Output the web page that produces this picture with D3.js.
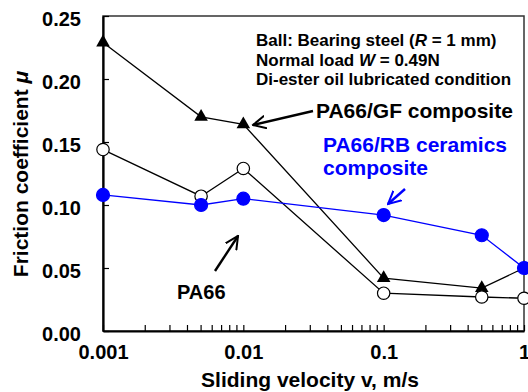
<!DOCTYPE html>
<html>
<head>
<meta charset="utf-8">
<script src="https://cdn.jsdelivr.net/npm/d3@7"></script>
<style>
  body { margin: 0; background: #fff; }
  svg { display: block; font-family: "Liberation Sans", Arial, sans-serif; font-weight: bold; }
</style>
</head>
<body>
<div id="chart"></div>
<script>
var velocity = [0.001, 0.005, 0.01, 0.1, 0.5, 1];
var pa66 = [0.144, 0.107, 0.129, 0.030, 0.027, 0.026];
var pa66gf = [0.229, 0.170, 0.164, 0.042, 0.034, 0.050];
var pa66rb = [0.108, 0.100, 0.105, 0.092, 0.076, 0.050];
var yTicks = [0, 0.05, 0.10, 0.15, 0.20, 0.25];
var xTicks = [0.001, 0.01, 0.1, 1];

var width = 528, height = 392,
    margin = {left: 103, right: 4, top: 16, bottom: 61},
    w = width - margin.left - margin.right,
    h = height - margin.top - margin.bottom;

var svg = d3.select('#chart').append('svg')
    .attr('width', width)
    .attr('height', height);

var chart = svg.append('g')
    .attr('transform', 'translate(' + margin.left + ',' + margin.top + ')');

var x = d3.scaleLog().domain([0.001, 1]).range([0, w]),
    y = d3.scaleLinear().domain([0, 0.25]).range([h, 0]);

// frame (top and right)
chart.append('rect')
    .attr('width', w).attr('height', h)
    .attr('fill', 'none')
    .attr('stroke', '#333')
    .attr('stroke-width', 1.5);

// minor x ticks
var minor = [];
[0.001, 0.01, 0.1].forEach(function(d) {
    for (var k = 2; k <= 9; k++) minor.push(d * k);
});

var xAxis = chart.append('g')
    .attr('transform', 'translate(0,' + h + ')')
    .call(d3.axisBottom(x).tickValues(xTicks).tickSize(-6).tickSizeOuter(0)
        .tickFormat(function(d) { return String(d); }));
xAxis.select('.domain').attr('stroke-width', 2.2);
xAxis.selectAll('.tick line').attr('stroke-width', 1.2);
xAxis.selectAll('text')
    .attr('dy', null).attr('y', 28)
    .style('font-size', '20px').attr('fill', '#000');

chart.append('g')
    .attr('transform', 'translate(0,' + h + ')')
    .selectAll('line')
    .data(minor)
    .enter().append('line')
    .attr('x1', function(d) { return x(d); })
    .attr('x2', function(d) { return x(d); })
    .attr('y1', 0).attr('y2', -6)
    .attr('stroke', '#000')
    .attr('stroke-width', 1.2);

var yAxis = chart.append('g')
    .call(d3.axisLeft(y).tickValues(yTicks).tickSize(-6).tickSizeOuter(0)
        .tickFormat(d3.format('.2f')));
yAxis.select('.domain').attr('stroke-width', 2.2);
yAxis.selectAll('.tick line').attr('stroke-width', 1.2);
yAxis.selectAll('text')
    .attr('x', -22).attr('dy', '0.45em')
    .style('font-size', '20px').attr('fill', '#000');

// axis titles
svg.append('text')
    .attr('x', 310)
    .attr('y', 387)
    .attr('text-anchor', 'middle')
    .style('font-size', '21px')
    .text('Sliding velocity v, m/s');

var ytitle = svg.append('text')
    .attr('transform', 'translate(28,174) rotate(-90)')
    .attr('text-anchor', 'middle')
    .style('font-size', '21px');
ytitle.append('tspan').text('Friction coefficient ');
ytitle.append('tspan').style('font-style', 'italic').text('μ');

// series
var series = [
    {values: pa66gf, color: '#000', marker: 'triangle'},
    {values: pa66, color: '#000', marker: 'open'},
    {values: pa66rb, color: '#0000ff', marker: 'dot'}
];

var line = d3.line()
    .x(function(d, i) { return x(velocity[i]); })
    .y(function(d) { return y(d); });

series.forEach(function(s) {
    chart.append('path')
        .datum(s.values)
        .attr('d', line)
        .attr('fill', 'none')
        .attr('stroke', s.color)
        .attr('stroke-width', 1.3);
});

series.forEach(function(s) {
    var g = chart.append('g');
    if (s.marker === 'triangle') {
        g.selectAll('path').data(s.values).enter().append('path')
            .attr('d', d3.symbol().type(d3.symbolTriangle).size(80))
            .attr('transform', function(d, i) { return 'translate(' + x(velocity[i]) + ',' + y(d) + ')'; })
            .attr('fill', '#000');
    } else {
        g.selectAll('circle').data(s.values).enter().append('circle')
            .attr('cx', function(d, i) { return x(velocity[i]); })
            .attr('cy', function(d) { return y(d); })
            .attr('r', s.marker === 'dot' ? 6.5 : 6.2)
            .attr('fill', s.marker === 'dot' ? s.color : '#fff')
            .attr('stroke', s.color)
            .attr('stroke-width', 1.2);
    }
});

// test condition note
var note = svg.append('g').style('font-size', '17px');
var l1 = note.append('text').attr('x', 256).attr('y', 46);
l1.append('tspan').text('Ball: Bearing steel (');
l1.append('tspan').style('font-style', 'italic').text('R');
l1.append('tspan').text(' = 1 mm)');
var l2 = note.append('text').attr('x', 256).attr('y', 65.5);
l2.append('tspan').text('Normal load ');
l2.append('tspan').style('font-style', 'italic').text('W');
l2.append('tspan').text(' = 0.49N');
note.append('text').attr('x', 256).attr('y', 85).text('Di-ester oil lubricated condition');

// series labels and arrows
svg.append('defs').selectAll('marker')
    .data([{id: 'ahk', color: '#000'}, {id: 'ahb', color: '#0000ff'}])
    .enter().append('marker')
    .attr('id', function(d) { return d.id; })
    .attr('viewBox', '0 -5 10 10')
    .attr('refX', 9).attr('refY', 0)
    .attr('markerWidth', 6).attr('markerHeight', 6)
    .attr('orient', 'auto')
    .append('path')
    .attr('d', 'M0,-4.5L9,0L0,4.5')
    .attr('fill', 'none')
    .attr('stroke', function(d) { return d.color; })
    .attr('stroke-width', 1.4);

svg.append('text').attr('x', 316).attr('y', 118)
    .style('font-size', '21px').text('PA66/GF composite');
svg.append('line')
    .attr('x1', 313).attr('y1', 111).attr('x2', 253).attr('y2', 125)
    .attr('stroke', '#000').attr('stroke-width', 2.4)
    .attr('marker-end', 'url(#ahk)');

svg.append('text').attr('x', 323).attr('y', 152)
    .style('font-size', '21px').attr('fill', '#0000ff').text('PA66/RB ceramics');
svg.append('text').attr('x', 323).attr('y', 175)
    .style('font-size', '21px').attr('fill', '#0000ff').text('composite');
svg.append('line')
    .attr('x1', 405).attr('y1', 189).attr('x2', 388).attr('y2', 204)
    .attr('stroke', '#0000ff').attr('stroke-width', 2.4)
    .attr('marker-end', 'url(#ahb)');

svg.append('text').attr('x', 177).attr('y', 299)
    .style('font-size', '20px').text('PA66');
svg.append('line')
    .attr('x1', 215).attr('y1', 271).attr('x2', 238).attr('y2', 236)
    .attr('stroke', '#000').attr('stroke-width', 2.4)
    .attr('marker-end', 'url(#ahk)');
</script>
</body>
</html>
